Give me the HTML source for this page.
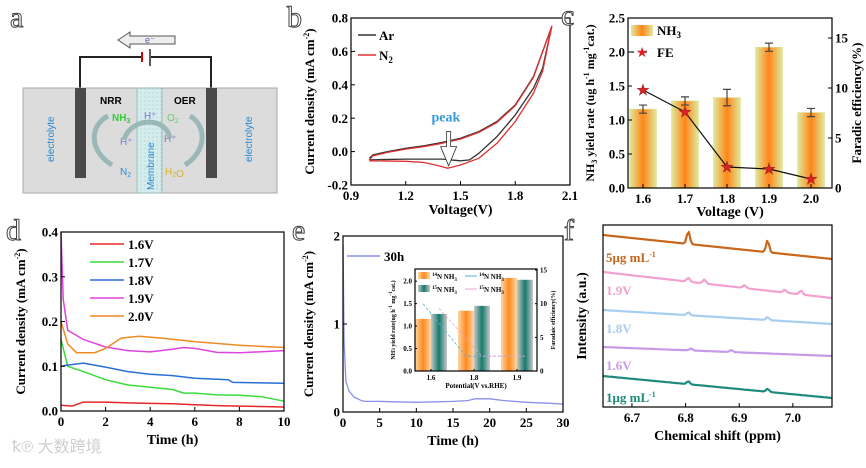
<!DOCTYPE html>
<html><head><meta charset="utf-8"><style>
html,body{margin:0;padding:0;background:#fff;}
svg text{font-family:"Liberation Serif",serif;}
svg text.ss{font-family:"Liberation Sans",sans-serif;}
svg text.wm{font-family:"Liberation Sans","Noto Sans CJK SC",sans-serif;}
.lbl{font-size:30px;fill:#fff;stroke:#444;stroke-width:1;}
</style></head><body>
<svg id="fig" width="866" height="463" viewBox="0 0 866 463" font-family="Liberation Serif, serif">
<defs>
<linearGradient id="gBar" x1="0" x2="1" y1="0" y2="0"><stop offset="0" stop-color="#dfe99e"/><stop offset="0.5" stop-color="#ff8616"/><stop offset="1" stop-color="#dfe99e"/></linearGradient>
<linearGradient id="gOr" x1="0" x2="1"><stop offset="0" stop-color="#fbd7a8"/><stop offset="0.5" stop-color="#ff8a1e"/><stop offset="1" stop-color="#fbd7a8"/></linearGradient>
<linearGradient id="gTe" x1="0" x2="1"><stop offset="0" stop-color="#c8c8c8"/><stop offset="0.5" stop-color="#157a6c"/><stop offset="1" stop-color="#c8c8c8"/></linearGradient>
<pattern id="mem" width="4" height="4" patternUnits="userSpaceOnUse"><rect width="4" height="4" fill="#d4ecec"/><circle cx="1" cy="1" r="0.6" fill="#a8cccc"/></pattern>
</defs>

<g>
<text class="lbl" x="10" y="27">a</text>
<polygon points="118,40 130,32 130,36 175,36 175,44 130,44 130,48" fill="#eee" stroke="#555" stroke-width="1"/>
<text x="145" y="43" class="ss" font-size="9" fill="#5566bb">e⁻</text>
<path d="M80,88 V57 H141 M151,57 H211 V88" fill="none" stroke="#222" stroke-width="2"/>
<line x1="142" y1="52" x2="142" y2="62" stroke="#d00" stroke-width="2"/>
<line x1="150" y1="49" x2="150" y2="66" stroke="#222" stroke-width="1.5"/>
<rect x="23" y="88" width="254" height="105" fill="#dcdcdc" stroke="#aaa"/>
<rect x="75" y="88" width="11" height="90" fill="#4a4a4a"/>
<rect x="206" y="88" width="11" height="90" fill="#4a4a4a"/>
<rect x="137" y="88" width="25" height="105" fill="url(#mem)" stroke="#9bb"/>
<text class="ss" font-size="10" fill="#2a8ad0" transform="translate(54,162) rotate(-90)">electrolyte</text>
<text class="ss" font-size="10" fill="#2a8ad0" transform="translate(252,162) rotate(-90)">electrolyte</text>
<text class="ss" font-size="10" fill="#2a8ad0" transform="translate(154,190) rotate(-90)">Membrane</text>
<text class="ss" font-size="10" font-weight="bold" x="100" y="104">NRR</text>
<text class="ss" font-size="10" font-weight="bold" x="174" y="104">OER</text>
<text class="ss" font-size="10" font-weight="bold" fill="#3c3" x="112" y="121">NH<tspan font-size="7" dy="2">3</tspan></text>
<text class="ss" font-size="10" fill="#7a7ad6" x="144" y="119">H⁺</text>
<text class="ss" font-size="10" fill="#7a7ad6" x="120" y="145">H⁺</text>
<text class="ss" font-size="10" fill="#7a7ad6" x="164" y="142">H⁺</text>
<text class="ss" font-size="10" fill="#6c6" x="167" y="121">O<tspan font-size="7" dy="2">2</tspan></text>
<text class="ss" font-size="10" fill="#2a8ad0" x="120" y="175">N<tspan font-size="7" dy="2">2</tspan></text>
<text class="ss" font-size="10" fill="#e0b020" x="165" y="175">H<tspan font-size="7" dy="2">2</tspan>O</text>
<path d="M112,165 C88,150 90,125 108,116" fill="none" stroke="#9bb8b8" stroke-width="5"/>
<path d="M185,165 C208,150 206,125 190,116" fill="none" stroke="#9bb8b8" stroke-width="5"/>
<path d="M124,140 C130,118 165,115 170,138" fill="none" stroke="#9bb8b8" stroke-width="5"/>
</g>

<g id="pb"><text class="lbl" x="287" y="27">b</text></g>
<g id="pc"><text class="lbl" x="561" y="25">c</text></g>
<g id="pd"><text class="lbl" x="6" y="240">d</text></g>
<g id="pe"><text class="lbl" x="292" y="240">e</text></g>
<g id="pf"><text class="lbl" x="564" y="240">f</text></g>
<text class="wm" x="12" y="452" font-size="16" fill="#cfcfcf">ꝁ℗ 大数跨境</text>
</svg>
<script>
const bTicksX=[0.9,1.2,1.5,1.8,2.1];
const bTicksY=[-0.2,0.0,0.2,0.4,0.6,0.8];
const arV=[1.0,1.02,1.1,1.2,1.3,1.4,1.5,1.6,1.7,1.8,1.9,2.0,1.95,1.9,1.8,1.7,1.6,1.55,1.5,1.4,1.2,1.05,1.0];
const arJ=[-0.04,-0.02,0.0,0.02,0.035,0.055,0.08,0.12,0.18,0.28,0.45,0.75,0.5,0.38,0.22,0.09,-0.01,-0.05,-0.055,-0.045,-0.045,-0.048,-0.05];
const n2V=[1.0,1.02,1.1,1.2,1.3,1.4,1.5,1.6,1.7,1.8,1.9,2.0,1.95,1.9,1.8,1.7,1.6,1.5,1.43,1.38,1.3,1.2,1.0];
const n2J=[-0.05,-0.025,-0.005,0.015,0.03,0.05,0.075,0.115,0.175,0.275,0.445,0.75,0.48,0.35,0.18,0.05,-0.04,-0.08,-0.1,-0.085,-0.065,-0.058,-0.055];

const cCats=["1.6","1.7","1.8","1.9","2.0"];
const cYield=[1.16,1.28,1.33,2.07,1.11];
const cErr=[0.06,0.06,0.12,0.06,0.06];
const cFE=[9.8,7.6,2.1,1.9,0.9];
const cTicksL=["0.0","0.5","1.0","1.5","2.0","2.5"];
const cTicksR=[0,5,10,15];

const dNames=["1.6V","1.7V","1.8V","1.9V","2.0V"];
const dColors=["#e8262a","#3cdc3c","#2a6fd6","#dd44dd","#f08a24"];
const dT=[
[0,0.5,1,2,3,4,5,6,7,8,10],
[0,0.3,1,2,3,4,5,5.5,6,7,8,9,10],
[0,0.2,1,2,3,4,5,6,7,7.5,7.7,10],
[0,0.1,0.3,1,2,3,4,5,5.5,6,7,8,10],
[0,0.3,0.7,1.5,2,2.7,3.5,4.5,6,8,10]];
const dJ=[
[0.013,0.011,0.02,0.02,0.018,0.017,0.016,0.014,0.012,0.011,0.009],
[0.16,0.1,0.088,0.07,0.058,0.053,0.048,0.04,0.04,0.036,0.035,0.032,0.022],
[0.1,0.102,0.107,0.098,0.088,0.082,0.079,0.073,0.071,0.07,0.064,0.062],
[0.4,0.25,0.18,0.16,0.143,0.135,0.132,0.138,0.142,0.14,0.131,0.13,0.135],
[0.2,0.15,0.13,0.13,0.14,0.163,0.167,0.163,0.155,0.147,0.142]];

const eT=[0,0.15,0.4,0.8,1.5,2.5,3,5,10,15,17,18,20,22,25,28,30];
const eJ=[1.9,0.8,0.35,0.24,0.17,0.13,0.12,0.12,0.11,0.12,0.13,0.15,0.15,0.13,0.11,0.1,0.09];
const iCats=["1.6","1.8","1.9"];
const i14=[1.16,1.34,2.07];
const i15=[1.27,1.45,2.03];
const iFE14=[10.0,2.2,2.2];
const iFE15=[9.3,2.2,2.2];

const fNames=["5μg mL⁻¹","1.9V","1.8V","1.6V","1μg mL⁻¹"];
const fColors=["#c8661a","#f2a0d0","#a8cdf2","#c79ae8","#1e8a7c"];
const fStart=[172,135,97,60,31];
const fEnd=[148,109,83,51,9];
const fPeakPos=[[6.805,6.953],[6.805,6.835,6.91,6.985,7.015],[6.805,6.953],[6.81,6.885],[6.805,6.953]];
const fPeakH=[[13,12],[4,4,3,3,4],[3,3],[2,2],[3,3]];

const NS="http://www.w3.org/2000/svg";
function lin(d0,d1,r0,r1){return v=>r0+(v-d0)*(r1-r0)/(d1-d0);}
function mk(p,tag,a,txt){const e=document.createElementNS(NS,tag);for(const k in a)e.setAttribute(k,a[k]);if(tag==='text')e.setAttribute('font-family','Liberation Serif, serif');if(txt!==undefined)e.textContent=txt;p.appendChild(e);return e;}
function frame(g,x0,y0,x1,y1){const r=mk(g,'rect',{x:x0,y:y0,width:x1-x0,height:y1-y0,fill:'none',stroke:'#000','stroke-width':1.2});

}
function poly(g,xs,ys,sx,sy,color,w,name){let d='';for(let i=0;i<xs.length;i++)d+=(i?'L':'M')+sx(xs[i]).toFixed(1)+','+sy(ys[i]).toFixed(1);
const p=mk(g,'path',{d:d,fill:'none',stroke:color,'stroke-width':w,'stroke-linejoin':'round'});

return p;}
function xtick(g,x,y,label,size,len){const l=mk(g,'line',{x1:x,x2:x,y1:y,y2:y-len,stroke:'#000'});


const t=mk(g,'text',{x:x,y:y+size+2,'text-anchor':'middle','font-size':size,'font-weight':'bold'},label);

}
function ytick(g,x,y,label,size,len,right){const l=mk(g,'line',{x1:x,x2:right?x-len:x+len,y1:y,y2:y,stroke:'#000'});


const t=mk(g,'text',{x:right?x+3:x-3,y:y+size*0.35,'text-anchor':right?'start':'end','font-size':size,'font-weight':'bold'},label);

}
function title(g,x,y,txt,rot,size){const t=mk(g,'text',{x:0,y:0,'text-anchor':'middle','font-size':size||14,'font-weight':'bold',transform:'translate('+x+','+y+')'+(rot?' rotate(-90)':'')});t.innerHTML=txt;return t;}

(function(){const g=document.getElementById('pb');const X0=351,X1=570,Y0=18,Y1=185;
const sx=lin(0.9,2.1,X0,X1),sy=lin(-0.2,0.8,Y1,Y0);
frame(g,X0,Y0,X1,Y1);
bTicksX.forEach(v=>xtick(g,sx(v),Y1,v.toFixed(1),13,4));
bTicksY.forEach(v=>ytick(g,X0,sy(v),v.toFixed(1),13,4,false));
poly(g,arV,arJ,sx,sy,'#333',1.3,'series-ar');
poly(g,n2V,n2J,sx,sy,'#e03030',1.3,'series-n2');
const ar=mk(g,'polygon',{points:[[sx(1.435)-2,sy(0.12)],[sx(1.435)+2,sy(0.12)],[sx(1.435)+2,sy(0.03)],[sx(1.435)+8,sy(0.03)],[sx(1.435),sy(-0.085)],[sx(1.435)-8,sy(0.03)],[sx(1.435)-2,sy(0.03)]].map(p=>p.join(',')).join(' '),fill:'#fff',stroke:'#333','stroke-width':0.8});


const pk=mk(g,'text',{x:sx(1.42),y:sy(0.18),'text-anchor':'middle','font-size':14,'font-weight':'bold',fill:'#3399dd'},'peak');


const L=[['Ar','#333'],['N<tspan font-size="9" dy="3">2</tspan>','#e03030']];
L.forEach((e,i)=>{const y=Y0+17+i*20;const l=mk(g,'line',{x1:358,x2:376,y1:y,y2:y,stroke:e[1],'stroke-width':1.5});


const t=mk(g,'text',{x:379,y:y+5,'font-size':13,'font-weight':'bold'});t.innerHTML=e[0];

});
const tx=title(g,sx(1.5),Y1+29,'Voltage(V)',false);


const ty=title(g,X0-37,(Y0+Y1)/2,'Current density (mA cm<tspan font-size="8" dy="-5">-2</tspan><tspan dy="5">)</tspan>',true,13);

})();

(function(){const g=document.getElementById('pc');const X0=628,X1=832,Y0=18,Y1=188;
const sx=i=>643+i*42,sy=lin(0,2.5,Y1,Y0),sr=lin(0,17,Y1,Y0);
cYield.forEach((v,i)=>{const r=mk(g,'rect',{x:sx(i)-13.5,y:sy(v),width:27,height:Y1-sy(v),fill:'url(#gBar)',stroke:'#d8e090','stroke-width':0.5});


const e=mk(g,'path',{d:`M${sx(i)},${sy(v-cErr[i])}V${sy(v+cErr[i])}M${sx(i)-4},${sy(v-cErr[i])}h8M${sx(i)-4},${sy(v+cErr[i])}h8`,stroke:'#444','stroke-width':1.2,fill:'none'});

});
poly(g,cFE.map((v,i)=>i),cFE,sx,sr,'#111',1.2,'fe-line');
cFE.forEach((v,i)=>{const s=mk(g,'text',{x:sx(i),y:sr(v)+5,'text-anchor':'middle','font-size':15,fill:'#e02020',stroke:'#822','stroke-width':0.5},'★');

});
frame(g,X0,Y0,X1,Y1);
cCats.forEach((c,i)=>xtick(g,sx(i),Y1,c,13,4));
cTicksL.forEach((c,i)=>ytick(g,X0,sy(i*0.5),c,13,4,false));
cTicksR.forEach(v=>ytick(g,X1,sr(v),String(v),13,4,true));
const lb=mk(g,'rect',{x:631,y:25,width:22,height:11,fill:'url(#gBar)'});


const lt=mk(g,'text',{x:657,y:35,'font-size':13,'font-weight':'bold'});lt.innerHTML='NH<tspan font-size="9" dy="3">3</tspan>';


const ll=mk(g,'line',{x1:631,x2:653,y1:52,y2:52,stroke:'#111','stroke-width':1.2,'stroke-dasharray':'3,10'});


const ls=mk(g,'text',{x:642,y:57,'text-anchor':'middle','font-size':14,fill:'#e02020'},'★');


const lf=mk(g,'text',{x:657,y:57,'font-size':13,'font-weight':'bold'},'FE');


const tx=title(g,(X0+X1)/2,Y1+28,'Voltage (V)',false);


const ty=title(g,X0-34,(Y0+Y1)/2,'NH<tspan font-size="8" dy="3">3</tspan><tspan dy="-3"> yield rate (ug h</tspan><tspan font-size="8" dy="-5">-1</tspan><tspan dy="5"> mg</tspan><tspan font-size="8" dy="-5">-1</tspan><tspan dy="5">cat.)</tspan>',true,12);


const tr=title(g,X1+29,(Y0+Y1)/2,'Faradic efficiency(%)',true,13);

})();

(function(){const g=document.getElementById('pd');const X0=61,X1=284,Y0=232,Y1=411;
const sx=lin(0,10,X0,X1),sy=lin(0,0.4,Y1,Y0);
dT.forEach((t,i)=>poly(g,t,dJ[i],sx,sy,dColors[i],1.5,'series-'+dNames[i]));
frame(g,X0,Y0,X1,Y1);
[0,2,4,6,8,10].forEach(v=>xtick(g,sx(v),Y1,String(v),13,4));
[0,0.1,0.2,0.3,0.4].forEach(v=>ytick(g,X0,sy(v),v.toFixed(1),13,4,false));
dNames.forEach((n,i)=>{const y=244+i*18;const l=mk(g,'line',{x1:90,x2:124,y1:y,y2:y,stroke:dColors[i],'stroke-width':1.5});


const t=mk(g,'text',{x:128,y:y+5,'font-size':13,'font-weight':'bold'},n);

});
const tx=title(g,(X0+X1)/2,Y1+33,'Time (h)',false);


const ty=title(g,X0-36,(Y0+Y1)/2,'Current density (mA cm<tspan font-size="8" dy="-5">-2</tspan><tspan dy="5">)</tspan>',true,13);

})();

(function(){const g=document.getElementById('pe');const X0=343,X1=563,Y0=236,Y1=412;
const sx=lin(0,30,X0,X1),sy=lin(0,2,Y1,Y0);
poly(g,eT,eJ,sx,sy,'#8a90ea',1.3,'series-30h');
frame(g,X0,Y0,X1,Y1);
[0,5,10,15,20,25,30].forEach(v=>xtick(g,sx(v),Y1,String(v),13,4));
[0,1,2].forEach(v=>ytick(g,X0,sy(v),String(v),13,4,false));
const l=mk(g,'line',{x1:347,x2:380,y1:256,y2:256,stroke:'#8a90ea','stroke-width':1.5});


const t=mk(g,'text',{x:384,y:261,'font-size':13,'font-weight':'bold'},'30h');


const tx=title(g,(X0+X1)/2,Y1+33,'Time (h)',false);


const ty=title(g,X0-30,(Y0+Y1)/2,'Current density (mA cm<tspan font-size="8" dy="-5">-2</tspan><tspan dy="5">)</tspan>',true,13);


const ig=mk(g,'g',{});


const IX0=415,IX1=537,IY0=269,IY1=371;
const bx=i=>431+i*43,iy=lin(0,2.27,IY1,IY0),ir=lin(0,15,IY1,IY0+1);
iCats.forEach((c,i)=>{const a=mk(ig,'rect',{x:bx(i)-16,y:iy(i14[i]),width:16,height:IY1-iy(i14[i]),fill:'url(#gOr)'});


const b=mk(ig,'rect',{x:bx(i),y:iy(i15[i]),width:16,height:IY1-iy(i15[i]),fill:'url(#gTe)'});

});
const p1=poly(ig,[0,1,2],iFE14,i=>bx(i)-8,ir,'#5aaee0',0.8,'inset-fe-14n');p1.setAttribute('stroke-dasharray','3,2');
const p2=poly(ig,[0,1,2],iFE15,i=>bx(i)+8,ir,'#f0a0d0',0.8,'inset-fe-15n');p2.setAttribute('stroke-dasharray','3,2');
frame(ig,IX0,IY0,IX1,IY1);
iCats.forEach((c,i)=>xtick(ig,bx(i),IY1,c,7,2));
[0,0.5,1,1.5,2].forEach(v=>ytick(ig,IX0,iy(v),v.toFixed(1),7,2,false));
[0,5,10,15].forEach(v=>ytick(ig,IX1,ir(v),String(v),7,2,true));
const leg=[['url(#gOr)','<tspan font-size="5" dy="-3">14</tspan><tspan dy="3">N NH</tspan><tspan font-size="5" dy="2">3</tspan>',272],['url(#gTe)','<tspan font-size="5" dy="-3">15</tspan><tspan dy="3">N NH</tspan><tspan font-size="5" dy="2">3</tspan>',285]];
leg.forEach(e=>{const r=mk(ig,'rect',{x:418,y:e[2],width:12,height:7,fill:e[0]});


const tt=mk(ig,'text',{x:432,y:e[2]+7,'font-size':7,'font-weight':'bold'});tt.innerHTML=e[1];

});
[['#5aaee0',276,'14'],['#f0a0d0',289,'15']].forEach(e=>{const ln=mk(ig,'line',{x1:465,x2:477,y1:e[1],y2:e[1],stroke:e[0]});


const tt=mk(ig,'text',{x:479,y:e[1]+3,'font-size':7,'font-weight':'bold'});tt.innerHTML='<tspan font-size="5" dy="-3">'+e[2]+'</tspan><tspan dy="3">N NH</tspan><tspan font-size="5" dy="2">3</tspan>';

});
const ix=title(ig,(IX0+IX1)/2,IY1+17,'Potential(V vs.RHE)',false,7);


const iyt=title(ig,IX0-20,(IY0+IY1)/2,'NH<tspan font-size="5">3</tspan> yield rate(ug h<tspan font-size="5" dy="-3">-1</tspan><tspan dy="3"> mg</tspan><tspan font-size="5" dy="-3">-1</tspan><tspan dy="3">cat.)</tspan>',true,6);


const iyr=title(ig,IX1+18,(IY0+IY1)/2,'Faradaic efficiency(%)',true,6);

})();

(function(){const g=document.getElementById('pf');const X0=603,X1=832,Y0=225,Y1=407;
const sx=lin(6.646,7.073,X0,X1),sy=lin(0,182,Y1,Y0);
fNames.forEach((n,i)=>{const xs=[],ys=[];for(let k=0;k<=120;k++){const x=6.646+k*(7.073-6.646)/120;let y=fStart[i]+(fEnd[i]-fStart[i])*k/120;
fPeakPos[i].forEach((p,j)=>{y+=fPeakH[i][j]*Math.exp(-Math.pow((x-p)/0.004,2));});xs.push(x);ys.push(y);}
poly(g,xs,ys,sx,sy,fColors[i],2.2,'spectrum-'+n);});
fNames.forEach((n,i)=>{const t=mk(g,'text',{x:606,y:sy(fStart[i])+(i==0?27:i==4?26:23),'font-size':13,'font-weight':'bold',fill:fColors[i]});
t.innerHTML=n.replace('⁻¹','<tspan font-size="8" dy="-5">-1</tspan>');

});
frame(g,X0,Y0,X1,Y1);
[6.7,6.8,6.9,7.0].forEach(v=>xtick(g,sx(v),Y1,v.toFixed(1),13,4));
const tx=title(g,(X0+X1)/2,Y1+33,'Chemical shift (ppm)',false);


const ty=title(g,X0-17,(Y0+Y1)/2,'Intensity (a.u.)',true,14);

})();
</script>
</body></html>
